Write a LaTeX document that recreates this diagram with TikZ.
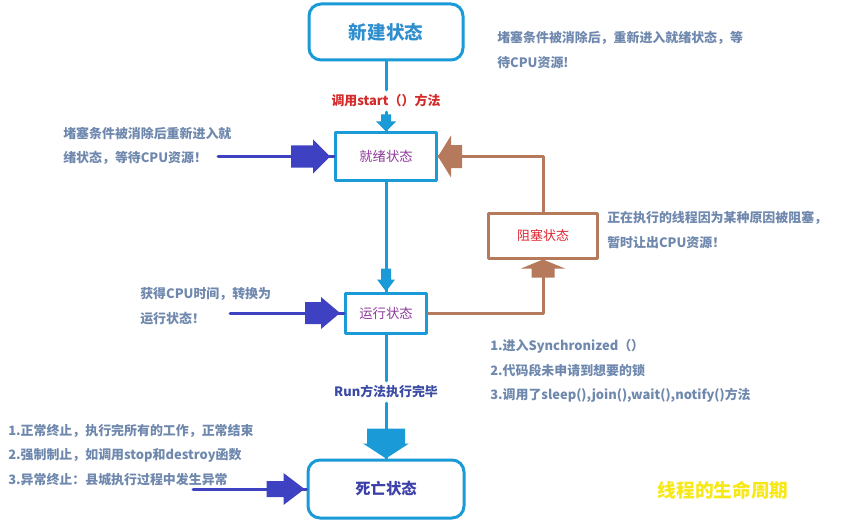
\documentclass[tikz,border=0pt]{standalone}
\usepackage{fontspec}
\setmainfont{Noto Sans CJK SC}
\definecolor{lifeBlue}{HTML}{1A9BD7}
\definecolor{lifeBrown}{HTML}{B57A5B}
\definecolor{lifeInk}{HTML}{3E42C2}
\definecolor{lifeNote}{HTML}{6F88AE}
\definecolor{lifePurple}{HTML}{8E3A9B}
\definecolor{lifeRed}{HTML}{E02632}
\definecolor{lifeStart}{HTML}{D42A2A}
\definecolor{lifeRun}{HTML}{3B4BA3}
\definecolor{lifeDead}{HTML}{3C40A8}
\definecolor{lifeNew}{HTML}{2F8FCE}
\definecolor{lifeYellow}{HTML}{F7E817}
\begin{document}
\begin{tikzpicture}[
  statebox/.style={draw=lifeBlue, line width=2.25pt, inner sep=0pt, align=center},
  flow/.style={draw=lifeBlue, line width=2.25pt},
  blockline/.style={draw=lifeBrown, line width=2.25pt},
  feed/.style={draw=lifeInk, line width=2.25pt},
  note/.style={text=lifeNote, font=\fontsize{9.7}{18.5}\selectfont\bfseries, align=left, inner sep=0pt, anchor=west}]
% thread life cycle, drawn on the pixel grid of the screenshot
\def\px{0.75pt}
\providecommand{\fatarrow}[7]{% tip, angle, head length, head half, shaft length, shaft half, colour
  \begin{scope}[shift={(#1)}, rotate=#2]
    \fill[#7] (0,0) -- (-#3,-#4) -- (-#3,-#6) -- ({-#3-#5},-#6) -- ({-#3-#5},#6) -- (-#3,#6) -- (-#3,#4) -- cycle;
  \end{scope}}
\begin{scope}[x=\px, y=-\px, line cap=round, line join=round]
  \useasboundingbox[fill=white] (0,0) rectangle (841,524);
  % States
  \node[statebox, rounded corners=9pt, minimum width=115.5pt, minimum height=42pt, text=lifeNew, font=\fontsize{13.9}{16}\selectfont\bfseries] (xinjian) at (386,32) {新建状态};
  \node[statebox, minimum width=75.75pt, minimum height=35.25pt, text=lifePurple, font=\fontsize{10}{12}\selectfont] (jiuxu) at (386,156.5) {就绪状态};
  \node[statebox, minimum width=60.75pt, minimum height=30pt, text=lifePurple, font=\fontsize{10}{12}\selectfont] (yunxing) at (386,313) {运行状态};
  \node[statebox, draw=lifeBrown, minimum width=81.75pt, minimum height=33.75pt, text=lifeRed, font=\fontsize{9.75}{12}\selectfont] (zusai) at (543,235.5) {阻塞状态};
  \node[statebox, rounded corners=9pt, minimum width=117pt, minimum height=43.5pt, text=lifeDead, font=\fontsize{11.5}{14}\selectfont\bfseries] (siwang) at (386,489) {死亡状态};
  % Labels on the main line
  \node[text=lifeStart, font=\fontsize{9.7}{12}\selectfont\bfseries] (startlbl) at (386,101) {调用start（）方法};
  \node[text=lifeRun, font=\fontsize{9.7}{12}\selectfont\bfseries] (runlbl) at (386,392) {Run方法执行完毕};
  % Main line
  \draw[flow] (xinjian) -- (startlbl);
  \draw[flow] (startlbl) -- (jiuxu);
  \fatarrow{jiuxu.north}{-90}{10}{10}{7}{5}{lifeBlue}
  \draw[flow] (jiuxu) -- (yunxing);
  \fatarrow{yunxing.north}{-90}{12}{9}{11}{5}{lifeBlue}
  \draw[flow] (yunxing) -- (runlbl);
  \draw[flow] (runlbl) -- (siwang);
  \fatarrow{siwang.north}{-90}{15}{23}{15}{19}{lifeBlue}
  % Blocked loop
  \draw[blockline] (yunxing.east) -| (zusai.south);
  \fatarrow{zusai.south}{90}{9}{22}{9}{11.5}{lifeBrown}
  \draw[blockline] (zusai.north) |- (jiuxu.east);
  \fatarrow{jiuxu.east}{180}{13}{21}{11}{11.5}{lifeBrown}
  % Incoming arrows from the notes
  \coordinate (in1) at (218,156.5);
  \draw[feed] (in1) -- (jiuxu.west);
  \fatarrow{[xshift=-3pt]jiuxu.west}{0}{17}{17}{22}{11}{lifeInk}
  \coordinate (in2) at (230,313);
  \draw[feed] (in2) -- (yunxing.west);
  \fatarrow{[xshift=-3pt]yunxing.west}{0}{19}{16}{16}{11}{lifeInk}
  \coordinate (in3) at (193,489);
  \draw[feed] (in3) -- (siwang.west);
  \fatarrow{[xshift=-1.5pt]siwang.west}{0}{21}{16}{17}{8}{lifeInk}
  % Notes
  \node[note] (notereset) at (497,50) {堵塞条件被消除后，重新进入就绪状态，等\\待CPU资源!};
  \node[note] (notewake) at (63,146) {堵塞条件被消除后重新进入就\\绪状态，等待CPU资源！};
  \node[note] (noteblock) at (607,230) {正在执行的线程因为某种原因被阻塞，\\暂时让出CPU资源！};
  \node[note] (notecpu) at (140,306.5) {获得CPU时间，转换为\\运行状态！};
  \node[note] (notecause) at (490,371) {1.进入Synchronized（）\\2.代码段未申请到想要的锁\\3.调用了sleep(),join(),wait(),notify()方法};
  \node[note] (noteend) at (8,455) {1.正常终止，执行完所有的工作，正常结束\\2.强制制止，如调用stop和destroy函数\\3.异常终止：县城执行过程中发生异常};
  \node[text=lifeYellow, font=\fontsize{14}{16}\selectfont\bfseries] (title) at (723,490) {线程的生命周期};
\end{scope}
\end{tikzpicture}
\end{document}
